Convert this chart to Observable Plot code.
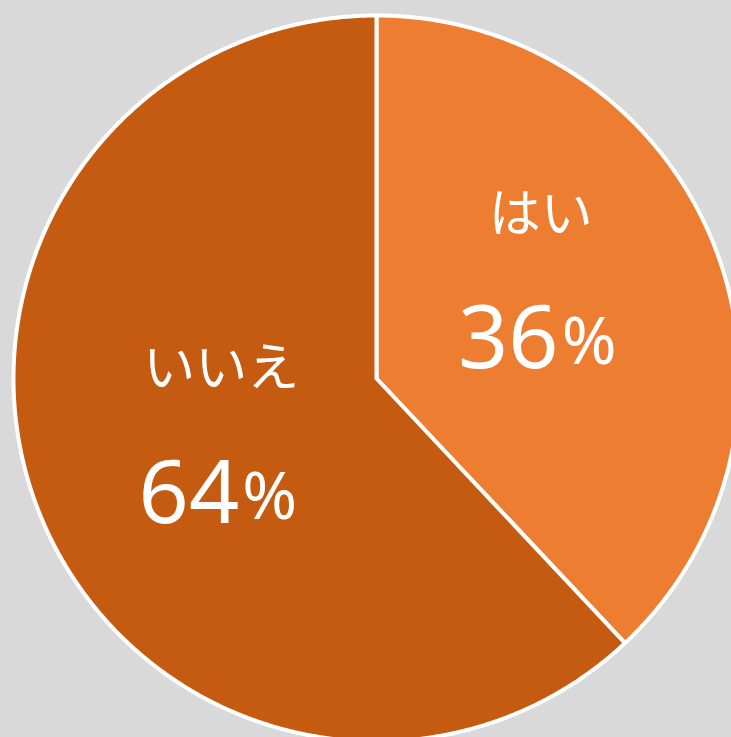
<!DOCTYPE html>
<html><head><meta charset="utf-8">
<script src="https://cdn.jsdelivr.net/npm/d3@7"></script>
<script src="https://cdn.jsdelivr.net/npm/@observablehq/plot@0.6"></script>
<style>
html,body{margin:0;padding:0;background:#d9d9d9;overflow:hidden;}
</style></head>
<body><div id="chart"></div>
<script>
const categories = ["はい", "いいえ"];
const labelPct = [36, 64];        // percentages printed on the chart
const sliceShare = [38, 62];      // slice sizes as drawn in the picture
const colors = ["#ED7D31", "#C55A11"];

const arcs = d3.pie().sort(null).value(d => d)(sliceShare);
const pts = [];
arcs.forEach((a, i) => {
  const cat = categories[i];
  pts.push({cat, x: 0, y: 0});
  const n = Math.max(2, Math.ceil((a.endAngle - a.startAngle) / 0.005));
  for (let k = 0; k <= n; k++) {
    const t = a.startAngle + (a.endAngle - a.startAngle) * k / n;
    pts.push({cat, x: Math.sin(t), y: Math.cos(t)});
  }
  pts.push({cat, x: 0, y: 0});
});
const labelArcs = d3.pie().sort(null).value(d => d)(labelPct);
const labels = labelArcs.map((a, i) => {
  const m = (a.startAngle + a.endAngle) / 2;
  return {cat: categories[i], value: String(labelPct[i]), x: 0.5 * Math.sin(m), y: 0.5 * Math.cos(m)};
});
const labelDx = [0, 9];
function labelMarks(i) {
  const d = [labels[i]];
  const base = {x: "x", y: "y", fill: "white", stroke: null};
  return [
    Plot.text(d, {...base, text: "cat", dx: labelDx[i], dy: -86, fontSize: 52, fontFamily: "'Noto Sans CJK JP', sans-serif"}),
    Plot.text(d, {...base, text: "value", dx: labelDx[i] + 18, dy: 39, textAnchor: "end", fontSize: 88, fontFamily: "'Noto Sans', 'Open Sans', sans-serif"}),
    Plot.text(d, {...base, text: () => "%", dx: labelDx[i] + 21, dy: 42, textAnchor: "start", fontSize: 66, fontFamily: "'Noto Sans', 'Open Sans', sans-serif"})
  ];
}

const cx = 376, cy = 378, R = 363;
const chart = Plot.plot({
  width: 731, height: 737,
  margin: 0,
  style: {background: "#d9d9d9", overflow: "hidden"},
  x: {domain: [-1, 1], range: [cx - R, cx + R], axis: null},
  y: {domain: [-1, 1], range: [cy + R, cy - R], axis: null},
  color: {domain: categories, range: colors},
  marks: [
    Plot.line(pts, {x: "x", y: "y", z: "cat", fill: "cat", stroke: "white", strokeWidth: 4, curve: "linear"}),
    ...labelMarks(0),
    ...labelMarks(1)
  ]
});
document.getElementById("chart").append(chart);
</script></body></html>
